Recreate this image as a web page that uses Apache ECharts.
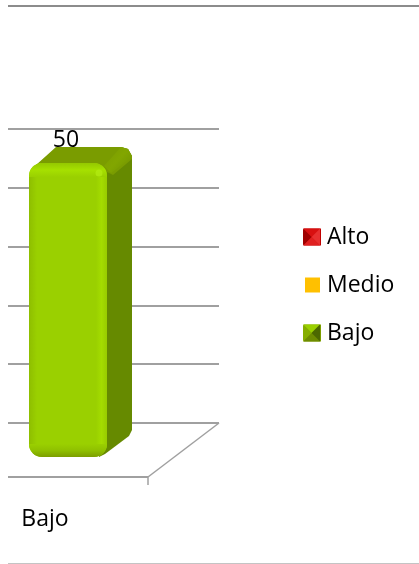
<!DOCTYPE html>
<html><head><meta charset="utf-8">
<style>html,body{margin:0;padding:0;background:#fff}#c{width:419px;height:564px}</style>
<script src="https://cdn.jsdelivr.net/npm/echarts@6/dist/echarts.min.js"></script>
</head><body><div id="c"></div>
<script>
const categories = ['Bajo'];
const alto = [null];
const medio = [null];
const bajo = [50];
const seriesNames = ['Alto', 'Medio', 'Bajo'];
const FONT = '"Open Sans", sans-serif';
const GRID = '#a0a0a0';
const chart = echarts.init(document.getElementById('c'), null, {renderer: 'canvas'});
const lin = (x, y, x2, y2, a, b, c) => new echarts.graphic.LinearGradient(x, y, x2, y2,
  c ? [{offset: 0, color: a}, {offset: .5, color: b}, {offset: 1, color: c}]
    : [{offset: 0, color: a}, {offset: 1, color: b}]);

function renderBar(params, api) {
  const v = api.value(1);
  if (v == null || isNaN(v)) return;
  const base = api.coord([api.value(0), 0]);
  const top = api.coord([api.value(0), v]);
  const L = base[0] - 84.5, R = base[0] - 6.5;
  const T = top[1] + 34, B = base[1] + 34;
  const dx = 25, dy = 16;
  const style = (fill) => ({fill, stroke: null});
  const floorY = base[1] + 54, backX = base[0] + 105.5, frontX = base[0] + 34.5;
  const line = (x1, y1, x2, y2, w, col) => ({type: 'line', shape: {x1, y1, x2, y2},
    style: {stroke: col || GRID, lineWidth: w}});
  return {type: 'group', children: [
    line(base[0] - 105.5, floorY, frontX, floorY, 2),
    line(frontX, floorY, backX, base[1], 1.5),
    line(frontX, floorY, frontX, floorY + 8, 1.5),
    // right side
    {type: 'polygon', shape: {points: [[R - 6, T + 5], [R + dx - 11, T - dy], [R + dx - 4, T - dy + 2], [R + dx, T - dy + 9],
      [R + dx, B - 27], [R + dx - 3, B - 21], [R - 2, B - 3], [R - 8, B]]}, style: style('#668a00')},
    // top
    {type: 'polygon', shape: {points: [[L + 7, T + 2], [L + 27, T - dy], [R + dx - 11, T - dy], [R + dx - 4, T - dy + 2],
      [R + dx, T - dy + 9], [R + dx, T - dy + 12], [R + 6, T + 12], [R - 6, T + 6]]}, style: style('#7a9c00')},
    {type: 'polygon', shape: {points: [[R + dx - 11, T - dy], [R + dx - 4, T - dy + 2], [R + dx, T - dy + 10], [R + 4, T + 10], [R - 3, T + 3]]},
      style: {fill: lin(0, 0, 1, 1, '#7a9c00', '#82a600', '#6e9200')}},
    // front
    {type: 'rect', shape: {x: L, y: T, width: R - L, height: B - T, r: 13}, style: style('#9ad000')},
    {type: 'rect', shape: {x: R - 11, y: T + 12, width: 11, height: B - T - 24}, style: {fill: lin(0, 0, 1, 0, '#9ad000', '#a4dc00', '#98cc00')}},
    {type: 'rect', shape: {x: L, y: T + 12, width: 8, height: B - T - 24}, style: {fill: lin(0, 0, 1, 0, '#8ebe00', '#9ad000')}},
    {type: 'rect', shape: {x: L, y: T, width: R - L, height: 14, r: [13, 13, 0, 0]}, style: {fill: lin(0, 0, 0, 1, '#94c800', '#a6e000', '#9ad000')}},
    {type: 'rect', shape: {x: L, y: B - 13, width: R - L, height: 13, r: [0, 0, 13, 13]}, style: {fill: lin(0, 0, 0, 1, '#9ad000', '#8fc000', '#7c9e00')}},
    {type: 'circle', shape: {cx: R - 8, cy: T + 10, r: 3.5}, style: {fill: '#b2ea10', opacity: .8}},
    // value label
    {type: 'text', style: {text: String(v), x: base[0] - 47.5, y: top[1] + 23, align: 'center', verticalAlign: 'bottom',
      font: '23px ' + FONT, fill: '#000'}}
  ]};
}
const tri = (pts, fill) => ({type: 'polygon', shape: {points: pts}, style: {fill}, silent: true, z: 20});
function bevel(x, y, s, cT, cL, cR, cB) {
  const a = x, b = x + s, c = y, d = y + s, mx = x + s / 2, my = y + s / 2;
  return [
    tri([[a, c], [b, c], [mx, my]], cT), tri([[a, d], [b, d], [mx, my]], cB),
    tri([[a, c], [a, d], [mx, my]], cL), tri([[b, c], [b, d], [mx, my]], cR)
  ];
}
chart.setOption({
  animation: false,
  backgroundColor: '#fff',
  grid: {left: 8, width: 211, top: 129, height: 294, containLabel: false},
  xAxis: {type: 'category', data: categories, axisLine: {show: false}, axisTick: {show: false},
    axisLabel: {color: '#000', fontFamily: FONT, fontSize: 23, margin: 85, padding: [0, 137, 0, 0]}},
  yAxis: {type: 'value', min: 0, max: 50, interval: 10, axisLine: {show: false}, axisTick: {show: false}, axisLabel: {show: false},
    splitLine: {lineStyle: {color: GRID, width: 2}}},
  legend: {orient: 'vertical', left: 303, top: 224.5, padding: 0, itemWidth: 17, itemHeight: 17, itemGap: 23, icon: 'rect',
    textStyle: {color: '#000', fontFamily: FONT, fontSize: 23, padding: [3, 0, 0, 1], lineHeight: 22},
    data: [
      {name: 'Alto', itemStyle: {color: '#c00000'}},
      {name: 'Medio', itemStyle: {color: '#ffc000', borderColor: '#fff', borderWidth: 2}},
      {name: 'Bajo', itemStyle: {color: '#7c9e00'}}
    ]},
  series: [
    {type: 'custom', name: seriesNames[0], data: alto.map((v, i) => [i, v]), renderItem: renderBar, itemStyle: {color: '#c00000'}},
    {type: 'custom', name: seriesNames[1], data: medio.map((v, i) => [i, v]), renderItem: renderBar, itemStyle: {color: '#ffc000'}},
    {type: 'custom', name: seriesNames[2], data: bajo.map((v, i) => [i, v]), renderItem: renderBar, itemStyle: {color: '#7c9e00'}, z: 5}
  ],
  graphic: [
    {type: 'line', shape: {x1: 8, y1: 6, x2: 419, y2: 6}, style: {stroke: '#8c8c8c', lineWidth: 2}, silent: true},
    {type: 'line', shape: {x1: 8, y1: 563.5, x2: 419, y2: 563.5}, style: {stroke: '#c4c4c4', lineWidth: 1}, silent: true},
    ...bevel(303, 228.5, 17, '#d81010', '#a00000', '#e83030', '#e02020'),
    ...bevel(303, 324.5, 17, '#9ad000', '#86ae00', '#4c6800', '#6e8c00')
  ]
});
</script></body></html>
